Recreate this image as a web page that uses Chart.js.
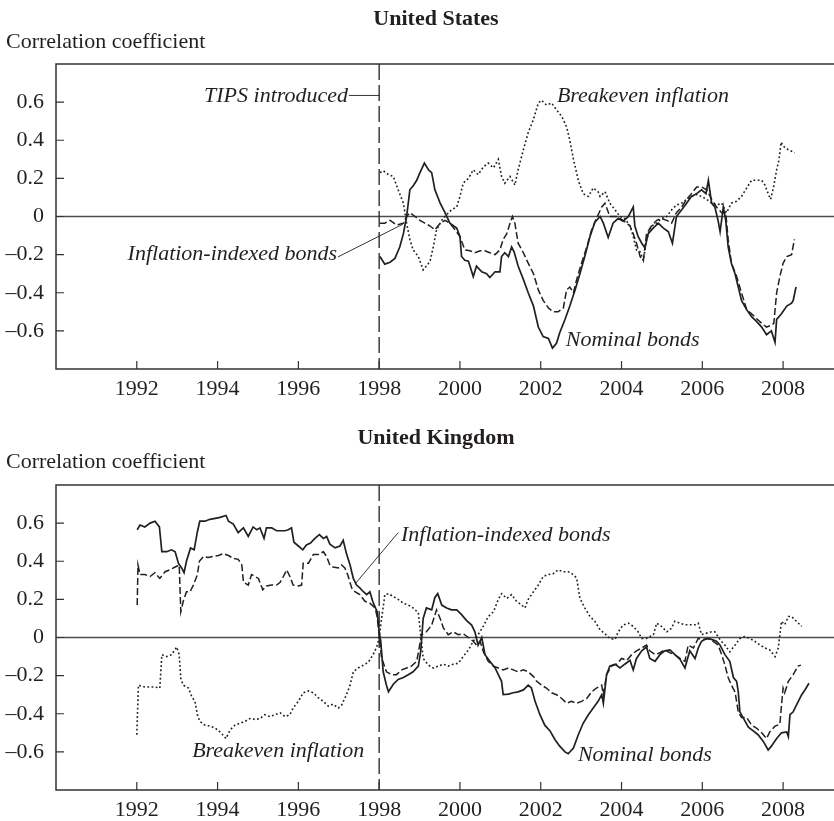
<!DOCTYPE html>
<html>
<head>
<meta charset="utf-8">
<script src="https://cdn.jsdelivr.net/npm/chart.js@4.4.1/dist/chart.umd.min.js"></script>
<style>
  html, body { margin: 0; padding: 0; background: #fff; overflow: hidden; }
  body { width: 834px; height: 821px; position: relative; font-family: 'Liberation Serif', 'Times New Roman', serif; color: #231f20; }
  .panel { position: absolute; left: 0; width: 834px; height: 400px; }
  .title { position: absolute; font-weight: bold; font-size: 22px; line-height: 22px; transform: translateX(-50%); white-space: nowrap; }
  .ylab { position: absolute; left: 6px; font-size: 22px; line-height: 22px; white-space: nowrap; }
</style>
</head>
<body>
<div class="panel" style="top:0"><canvas id="usChart" width="834" height="400"></canvas></div>
<div class="panel" style="top:421px"><canvas id="ukChart" width="834" height="400"></canvas></div>
<div class="title" style="left:436px;top:7px">United States</div>
<div class="ylab" style="top:30px">Correlation coefficient</div>
<div class="title" style="left:436px;top:426px">United Kingdom</div>
<div class="ylab" style="top:450px">Correlation coefficient</div>
<script>
const ink = '#231f20';
const serif = "'Liberation Serif', 'Times New Roman', serif";

const xTicks = [1992, 1994, 1996, 1998, 2000, 2002, 2004, 2006, 2008];
const yTicks = [-0.6, -0.4, -0.2, 0, 0.2, 0.4, 0.6];
const markerYear = 1998;

// United States
const usNomYears = [1998.02,1998.14,1998.27,1998.39,1998.51,1998.60,1998.68,1998.76,1998.84,1998.93,1999.01,1999.12,1999.22,1999.30,1999.38,1999.51,1999.63,1999.75,1999.92,2000.00,2000.04,2000.12,2000.21,2000.33,2000.41,2000.54,2000.66,2000.74,2000.87,2000.99,2001.03,2001.11,2001.20,2001.28,2001.34,2001.44,2001.57,2001.69,2001.82,2001.94,2002.06,2002.19,2002.29,2002.39,2002.47,2002.60,2002.72,2002.85,2002.97,2003.09,2003.22,2003.34,2003.47,2003.55,2003.67,2003.79,2003.92,2004.04,2004.17,2004.29,2004.33,2004.41,2004.50,2004.58,2004.66,2004.79,2004.91,2005.03,2005.16,2005.26,2005.36,2005.49,2005.61,2005.73,2005.86,2005.98,2006.09,2006.15,2006.23,2006.31,2006.39,2006.44,2006.52,2006.58,2006.64,2006.72,2006.81,2006.89,2006.97,2007.10,2007.22,2007.34,2007.47,2007.59,2007.71,2007.80,2007.84,2007.96,2008.09,2008.21,2008.25,2008.32];
const usNom = [-0.21,-0.25,-0.24,-0.22,-0.16,-0.09,0.00,0.14,0.16,0.19,0.23,0.28,0.245,0.23,0.14,0.07,0.02,-0.035,-0.06,-0.105,-0.21,-0.23,-0.235,-0.315,-0.26,-0.29,-0.30,-0.32,-0.29,-0.29,-0.21,-0.19,-0.21,-0.16,-0.185,-0.26,-0.33,-0.40,-0.47,-0.58,-0.63,-0.64,-0.69,-0.665,-0.61,-0.54,-0.47,-0.385,-0.30,-0.21,-0.105,-0.03,0.00,-0.035,-0.11,-0.035,-0.01,-0.025,0.00,0.05,-0.05,-0.105,-0.14,-0.165,-0.09,-0.06,-0.035,-0.06,-0.08,-0.14,0.00,0.035,0.07,0.105,0.12,0.14,0.12,0.19,0.07,0.05,-0.02,-0.08,0.05,-0.02,-0.16,-0.245,-0.30,-0.37,-0.44,-0.49,-0.525,-0.55,-0.58,-0.62,-0.60,-0.66,-0.54,-0.51,-0.47,-0.455,-0.44,-0.37];

const usIdxYears = [1998.02,1998.14,1998.27,1998.43,1998.60,1998.68,1998.76,1998.89,1999.01,1999.13,1999.26,1999.38,1999.51,1999.63,1999.75,1999.88,2000.00,2000.12,2000.25,2000.37,2000.50,2000.62,2000.74,2000.87,2000.99,2001.07,2001.16,2001.24,2001.30,2001.36,2001.44,2001.57,2001.69,2001.82,2001.94,2002.06,2002.19,2002.31,2002.43,2002.56,2002.64,2002.72,2002.81,2002.89,2003.01,2003.14,2003.26,2003.38,2003.51,2003.59,2003.71,2003.88,2004.04,2004.21,2004.29,2004.37,2004.46,2004.54,2004.62,2004.74,2004.87,2004.99,2005.12,2005.24,2005.36,2005.49,2005.61,2005.73,2005.86,2005.98,2006.11,2006.23,2006.35,2006.48,2006.58,2006.64,2006.72,2006.85,2006.97,2007.10,2007.22,2007.34,2007.47,2007.59,2007.71,2007.77,2007.84,2007.92,2008.00,2008.09,2008.21,2008.28];
const usIdx = [-0.035,-0.035,-0.02,-0.045,-0.035,0.00,0.02,0.00,-0.02,-0.035,-0.05,-0.07,-0.035,-0.02,-0.035,-0.07,-0.105,-0.175,-0.18,-0.19,-0.18,-0.18,-0.19,-0.20,-0.175,-0.12,-0.09,-0.035,0.00,-0.035,-0.14,-0.19,-0.245,-0.30,-0.385,-0.44,-0.48,-0.50,-0.50,-0.48,-0.385,-0.37,-0.40,-0.33,-0.245,-0.16,-0.07,-0.01,0.05,0.07,0.00,0.00,-0.02,-0.05,-0.09,-0.14,-0.21,-0.23,-0.09,-0.05,-0.02,-0.01,-0.02,-0.035,0.02,0.05,0.09,0.12,0.155,0.155,0.14,0.09,0.05,0.02,0.02,-0.12,-0.245,-0.315,-0.40,-0.49,-0.51,-0.535,-0.56,-0.58,-0.57,-0.56,-0.40,-0.315,-0.245,-0.21,-0.20,-0.12];

const usBeYears = [1998.02,1998.10,1998.23,1998.35,1998.47,1998.60,1998.68,1998.76,1998.84,1998.97,1999.09,1999.17,1999.26,1999.34,1999.42,1999.55,1999.67,1999.79,1999.92,2000.00,2000.08,2000.21,2000.33,2000.45,2000.58,2000.70,2000.83,2000.95,2001.03,2001.11,2001.24,2001.36,2001.44,2001.57,2001.69,2001.82,2001.94,2002.02,2002.14,2002.27,2002.39,2002.52,2002.64,2002.72,2002.81,2002.93,2003.05,2003.18,2003.30,2003.42,2003.47,2003.59,2003.71,2003.84,2003.96,2004.08,2004.21,2004.29,2004.37,2004.46,2004.54,2004.62,2004.74,2004.87,2004.99,2005.12,2005.24,2005.36,2005.49,2005.61,2005.73,2005.86,2005.98,2006.11,2006.23,2006.35,2006.48,2006.60,2006.72,2006.85,2006.97,2007.10,2007.22,2007.34,2007.47,2007.55,2007.63,2007.69,2007.76,2007.84,2007.90,2007.95,2008.00,2008.13,2008.29];
const usBe = [0.23,0.24,0.22,0.21,0.14,0.07,-0.035,-0.12,-0.175,-0.21,-0.28,-0.26,-0.235,-0.16,-0.07,-0.02,0.01,0.035,0.05,0.105,0.175,0.20,0.245,0.22,0.26,0.28,0.255,0.30,0.21,0.175,0.21,0.165,0.245,0.35,0.44,0.51,0.595,0.61,0.585,0.595,0.56,0.525,0.47,0.40,0.30,0.19,0.12,0.105,0.15,0.13,0.105,0.13,0.07,0.035,0.00,-0.01,-0.05,-0.105,-0.175,-0.185,-0.23,-0.12,-0.05,-0.035,-0.01,0.00,0.035,0.06,0.07,0.09,0.105,0.115,0.105,0.09,0.07,0.06,0.07,0.02,0.07,0.08,0.105,0.15,0.19,0.19,0.19,0.165,0.12,0.09,0.15,0.245,0.30,0.39,0.37,0.35,0.335];

// United Kingdom
const ukNomYears = [1992.01,1992.08,1992.20,1992.33,1992.45,1992.56,1992.62,1992.74,1992.86,1992.95,1993.03,1993.11,1993.17,1993.23,1993.33,1993.42,1993.50,1993.56,1993.69,1993.81,1993.94,1994.06,1994.21,1994.27,1994.39,1994.51,1994.64,1994.76,1994.88,1994.97,1995.05,1995.15,1995.21,1995.34,1995.46,1995.59,1995.67,1995.75,1995.83,1995.89,1996.00,1996.11,1996.20,1996.30,1996.41,1996.52,1996.62,1996.70,1996.78,1996.91,1997.03,1997.11,1997.19,1997.28,1997.36,1997.44,1997.52,1997.61,1997.69,1997.77,1997.84,1997.90,1997.95,1998.00,1998.04,1998.10,1998.18,1998.23,1998.35,1998.47,1998.60,1998.72,1998.84,1998.97,1999.03,1999.09,1999.17,1999.30,1999.38,1999.45,1999.55,1999.67,1999.79,1999.92,2000.04,2000.16,2000.29,2000.37,2000.45,2000.54,2000.62,2000.74,2000.87,2000.95,2001.03,2001.07,2001.20,2001.32,2001.44,2001.57,2001.69,2001.77,2001.86,2001.98,2002.10,2002.23,2002.35,2002.47,2002.60,2002.68,2002.81,2002.93,2003.05,2003.18,2003.30,2003.42,2003.51,2003.55,2003.63,2003.71,2003.84,2003.96,2004.08,2004.21,2004.29,2004.37,2004.50,2004.62,2004.70,2004.83,2004.95,2005.07,2005.20,2005.32,2005.45,2005.57,2005.69,2005.82,2005.90,2005.98,2006.11,2006.23,2006.35,2006.44,2006.56,2006.68,2006.77,2006.85,2006.89,2006.93,2007.01,2007.14,2007.26,2007.38,2007.51,2007.63,2007.71,2007.84,2007.96,2008.09,2008.13,2008.17,2008.25,2008.33,2008.46,2008.54,2008.64];
const ukNom = [0.565,0.59,0.58,0.60,0.61,0.58,0.45,0.45,0.46,0.45,0.39,0.365,0.34,0.40,0.47,0.46,0.555,0.61,0.61,0.62,0.625,0.63,0.64,0.61,0.595,0.55,0.575,0.53,0.58,0.565,0.575,0.52,0.575,0.575,0.56,0.56,0.56,0.565,0.575,0.50,0.48,0.46,0.485,0.495,0.52,0.54,0.52,0.53,0.49,0.47,0.48,0.51,0.44,0.38,0.31,0.275,0.26,0.24,0.225,0.24,0.19,0.16,0.135,0.03,-0.02,-0.18,-0.25,-0.285,-0.245,-0.22,-0.21,-0.195,-0.18,-0.15,-0.07,0.10,0.155,0.145,0.21,0.23,0.17,0.155,0.145,0.145,0.12,0.09,0.065,0.03,-0.04,0.00,-0.09,-0.125,-0.16,-0.195,-0.23,-0.30,-0.297,-0.29,-0.285,-0.275,-0.25,-0.265,-0.335,-0.405,-0.46,-0.49,-0.535,-0.57,-0.60,-0.61,-0.58,-0.51,-0.45,-0.405,-0.37,-0.335,-0.30,-0.345,-0.195,-0.15,-0.14,-0.16,-0.14,-0.12,-0.17,-0.11,-0.07,-0.05,-0.11,-0.125,-0.09,-0.07,-0.065,-0.09,-0.115,-0.16,-0.07,-0.11,-0.055,-0.02,-0.005,-0.01,-0.02,-0.04,-0.09,-0.125,-0.21,-0.23,-0.285,-0.39,-0.42,-0.47,-0.49,-0.51,-0.545,-0.59,-0.57,-0.53,-0.50,-0.495,-0.52,-0.405,-0.39,-0.355,-0.30,-0.275,-0.24];

const ukIdxYears = [1992.01,1992.03,1992.08,1992.20,1992.33,1992.45,1992.57,1992.70,1992.82,1992.95,1993.05,1993.09,1993.15,1993.23,1993.32,1993.40,1993.50,1993.55,1993.65,1993.77,1993.89,1994.02,1994.14,1994.27,1994.39,1994.51,1994.60,1994.64,1994.76,1994.84,1994.93,1995.01,1995.12,1995.21,1995.34,1995.46,1995.55,1995.63,1995.71,1995.79,1995.87,1996.00,1996.08,1996.12,1996.25,1996.37,1996.49,1996.62,1996.70,1996.78,1996.86,1996.99,1997.07,1997.15,1997.22,1997.32,1997.40,1997.52,1997.65,1997.77,1997.90,1997.95,1998.00,1998.06,1998.09,1998.18,1998.31,1998.43,1998.56,1998.68,1998.80,1998.93,1999.05,1999.17,1999.30,1999.42,1999.51,1999.59,1999.71,1999.83,1999.96,2000.08,2000.21,2000.33,2000.41,2000.50,2000.58,2000.70,2000.83,2000.95,2001.07,2001.20,2001.32,2001.44,2001.57,2001.69,2001.82,2001.90,2002.02,2002.14,2002.27,2002.39,2002.52,2002.64,2002.76,2002.89,2003.01,2003.14,2003.26,2003.38,2003.51,2003.55,2003.63,2003.75,2003.88,2004.00,2004.13,2004.25,2004.37,2004.50,2004.62,2004.70,2004.83,2004.95,2005.07,2005.20,2005.32,2005.45,2005.57,2005.65,2005.78,2005.90,2006.02,2006.15,2006.27,2006.39,2006.48,2006.56,2006.64,2006.72,2006.81,2006.89,2006.97,2007.10,2007.22,2007.34,2007.47,2007.59,2007.67,2007.80,2007.92,2007.96,2008.00,2008.04,2008.13,2008.25,2008.37,2008.44];
const ukIdx = [0.17,0.38,0.33,0.33,0.32,0.34,0.31,0.345,0.355,0.37,0.38,0.135,0.19,0.24,0.24,0.275,0.33,0.40,0.425,0.42,0.425,0.43,0.44,0.43,0.415,0.41,0.38,0.29,0.275,0.33,0.32,0.31,0.25,0.27,0.275,0.275,0.29,0.32,0.355,0.32,0.275,0.27,0.275,0.39,0.39,0.435,0.435,0.45,0.425,0.38,0.37,0.365,0.38,0.365,0.33,0.26,0.24,0.225,0.19,0.18,0.155,0.11,0.015,-0.11,-0.125,-0.18,-0.195,-0.195,-0.17,-0.16,-0.15,-0.125,0.015,0.03,0.065,0.145,0.10,0.05,0.015,0.03,0.015,0.02,0.00,-0.02,-0.04,-0.02,-0.075,-0.125,-0.15,-0.16,-0.17,-0.16,-0.17,-0.18,-0.17,-0.18,-0.205,-0.23,-0.25,-0.265,-0.29,-0.30,-0.32,-0.345,-0.335,-0.345,-0.335,-0.32,-0.285,-0.265,-0.25,-0.30,-0.195,-0.15,-0.14,-0.11,-0.12,-0.09,-0.07,-0.055,-0.04,-0.07,-0.09,-0.08,-0.065,-0.08,-0.09,-0.11,-0.125,-0.04,-0.055,-0.005,-0.01,-0.005,-0.02,-0.04,-0.09,-0.145,-0.21,-0.25,-0.285,-0.39,-0.42,-0.42,-0.46,-0.475,-0.50,-0.53,-0.495,-0.465,-0.455,-0.355,-0.265,-0.29,-0.23,-0.195,-0.15,-0.145];

const ukBeYears = [1992.00,1992.04,1992.20,1992.33,1992.45,1992.57,1992.62,1992.74,1992.86,1992.99,1993.05,1993.09,1993.15,1993.28,1993.36,1993.44,1993.50,1993.56,1993.69,1993.81,1993.94,1994.06,1994.21,1994.31,1994.43,1994.55,1994.68,1994.80,1994.93,1995.05,1995.17,1995.30,1995.42,1995.55,1995.67,1995.79,1995.87,1996.00,1996.12,1996.25,1996.37,1996.49,1996.62,1996.74,1996.86,1996.99,1997.07,1997.19,1997.28,1997.36,1997.48,1997.61,1997.73,1997.85,1997.94,1998.00,1998.06,1998.12,1998.14,1998.23,1998.35,1998.47,1998.60,1998.72,1998.84,1998.97,1999.01,1999.09,1999.22,1999.34,1999.46,1999.59,1999.71,1999.83,1999.96,2000.08,2000.21,2000.33,2000.45,2000.58,2000.70,2000.83,2000.95,2001.03,2001.16,2001.28,2001.40,2001.53,2001.61,2001.69,2001.82,2001.94,2002.06,2002.19,2002.31,2002.43,2002.56,2002.68,2002.81,2002.89,2002.97,2003.09,2003.22,2003.34,2003.47,2003.59,2003.71,2003.84,2003.92,2004.04,2004.17,2004.29,2004.41,2004.50,2004.62,2004.79,2004.87,2004.99,2005.12,2005.24,2005.32,2005.45,2005.57,2005.69,2005.82,2005.90,2005.98,2006.11,2006.23,2006.31,2006.44,2006.56,2006.68,2006.81,2006.93,2007.05,2007.18,2007.30,2007.43,2007.55,2007.67,2007.80,2007.88,2007.92,2007.96,2008.04,2008.13,2008.21,2008.33,2008.46];
const ukBe = [-0.51,-0.25,-0.26,-0.26,-0.26,-0.265,-0.09,-0.10,-0.09,-0.05,-0.09,-0.215,-0.25,-0.265,-0.31,-0.335,-0.405,-0.44,-0.46,-0.465,-0.475,-0.495,-0.53,-0.485,-0.46,-0.45,-0.44,-0.425,-0.43,-0.425,-0.405,-0.415,-0.405,-0.395,-0.415,-0.405,-0.37,-0.335,-0.29,-0.28,-0.29,-0.315,-0.335,-0.36,-0.35,-0.37,-0.355,-0.30,-0.25,-0.18,-0.16,-0.145,-0.13,-0.09,-0.05,0.00,0.10,0.19,0.225,0.23,0.215,0.20,0.18,0.17,0.155,0.13,0.05,-0.11,-0.145,-0.16,-0.15,-0.14,-0.15,-0.14,-0.135,-0.10,-0.065,-0.02,0.015,0.06,0.11,0.135,0.20,0.23,0.205,0.225,0.19,0.17,0.155,0.20,0.24,0.275,0.32,0.33,0.335,0.355,0.345,0.345,0.33,0.31,0.205,0.155,0.11,0.085,0.04,0.02,-0.005,-0.01,0.03,0.065,0.075,0.058,0.03,-0.005,-0.005,0.015,0.075,0.058,0.03,0.049,0.085,0.075,0.067,0.067,0.067,0.075,0.015,0.023,0.03,0.03,-0.012,-0.04,-0.075,-0.04,-0.005,0.005,-0.005,-0.02,-0.04,-0.055,-0.065,-0.10,-0.055,0.015,0.085,0.067,0.11,0.11,0.085,0.058];

const usNotes = [
  { text: 'TIPS introduced', x: 1997.23, y: 0.63, align: 'right', line: [[1997.25, 0.635], [1998, 0.635]] },
  { text: 'Breakeven inflation', x: 2002.40, y: 0.63, align: 'left' },
  { text: 'Inflation-indexed bonds', x: 1996.96, y: -0.20, align: 'right', line: [[1996.98, -0.212], [1998.59, -0.04]] },
  { text: 'Nominal bonds', x: 2002.62, y: -0.647, align: 'left' }
];
const ukNotes = [
  { text: 'Inflation-indexed bonds', x: 1998.54, y: 0.534, align: 'left', line: [[1998.47, 0.55], [1997.40, 0.28]] },
  { text: 'Breakeven inflation', x: 1993.37, y: -0.595, align: 'left' },
  { text: 'Nominal bonds', x: 2002.92, y: -0.62, align: 'left' }
];

function fmtCorr(v) {
  if (Math.abs(v) < 1e-9) return '0';
  return (v < 0 ? '\u2013' : '') + Math.abs(v).toFixed(1);
}

function framePlugin(notes) {
  return {
    id: 'frame',
    beforeDatasetsDraw(chart) {
      const { ctx, chartArea: a, scales: { x, y } } = chart;
      ctx.save();
      // zero line
      const y0 = y.getPixelForValue(0);
      ctx.strokeStyle = '#4d4d4d';
      ctx.lineWidth = 1.5;
      ctx.beginPath();
      ctx.moveTo(a.left, y0);
      ctx.lineTo(a.right, y0);
      ctx.stroke();
      // 1998 marker
      const xm = x.getPixelForValue(markerYear);
      ctx.strokeStyle = ink;
      ctx.lineWidth = 1.3;
      ctx.setLineDash([16, 5]);
      ctx.beginPath();
      ctx.moveTo(xm, a.top);
      ctx.lineTo(xm, a.bottom);
      ctx.stroke();
      ctx.restore();
    },
    afterDraw(chart) {
      const { ctx, chartArea: a, scales: { x, y } } = chart;
      ctx.save();
      ctx.strokeStyle = '#333';
      ctx.lineWidth = 1.5;
      ctx.beginPath();
      ctx.moveTo(a.right, a.top);
      ctx.lineTo(a.left, a.top);
      ctx.lineTo(a.left, a.bottom);
      ctx.lineTo(a.right, a.bottom);
      ctx.stroke();

      // inward tick marks
      ctx.lineWidth = 1.2;
      ctx.beginPath();
      xTicks.forEach(v => {
        const px = x.getPixelForValue(v);
        ctx.moveTo(px, a.bottom);
        ctx.lineTo(px, a.bottom - 8);
      });
      yTicks.forEach(v => {
        const py = y.getPixelForValue(v);
        ctx.moveTo(a.left, py);
        ctx.lineTo(a.left + 8, py);
      });
      ctx.stroke();

      // labels
      ctx.fillStyle = ink;
      ctx.strokeStyle = ink;
      ctx.font = 'italic 22px ' + serif;
      ctx.textBaseline = 'middle';
      notes.forEach(n => {
        ctx.textAlign = n.align;
        ctx.fillText(n.text, x.getPixelForValue(n.x), y.getPixelForValue(n.y));
        if (n.line) {
          ctx.lineWidth = 0.9;
          ctx.beginPath();
          ctx.moveTo(x.getPixelForValue(n.line[0][0]), y.getPixelForValue(n.line[0][1]));
          ctx.lineTo(x.getPixelForValue(n.line[1][0]), y.getPixelForValue(n.line[1][1]));
          ctx.stroke();
        }
      });
      ctx.restore();
    }
  };
}

function toPoints(years, values) {
  return years.map((yr, i) => ({ x: yr, y: values[i] }));
}

function buildChart(id, series, notes) {
  return new Chart(document.getElementById(id), {
    type: 'line',
    data: {
      datasets: series.map(s => ({
        label: s.label,
        data: toPoints(s.years, s.values),
        borderColor: ink,
        borderWidth: s.width,
        borderDash: s.dash,
        pointRadius: 0,
        tension: 0,
        fill: false
      }))
    },
    options: {
      responsive: false,
      animation: false,
      events: [],
      layout: { padding: { top: 64, left: 0, right: 0, bottom: 0 } },
      plugins: { legend: { display: false }, tooltip: { enabled: false } },
      scales: {
        x: {
          type: 'linear',
          min: 1990,
          max: 2009.26,
          grid: { display: false, drawTicks: false },
          border: { display: false },
          afterBuildTicks: s => { s.ticks = xTicks.map(v => ({ value: v })); },
          afterFit: s => { s.height = 31; },
          ticks: {
            color: ink,
            font: { family: serif, size: 22 },
            padding: 7,
            maxRotation: 0,
            autoSkip: false,
            callback: v => String(v)
          }
        },
        y: {
          min: -0.8,
          max: 0.8,
          grid: { display: false, drawTicks: false },
          border: { display: false },
          afterBuildTicks: s => { s.ticks = yTicks.map(v => ({ value: v })); },
          afterFit: s => { s.width = 56; },
          ticks: {
            color: ink,
            font: { family: serif, size: 22 },
            padding: 12,
            autoSkip: false,
            callback: v => fmtCorr(v)
          }
        }
      }
    },
    plugins: [framePlugin(notes)]
  });
}

buildChart('usChart', [
  { label: 'Nominal bonds', years: usNomYears, values: usNom, width: 1.7, dash: [] },
  { label: 'Inflation-indexed bonds', years: usIdxYears, values: usIdx, width: 1.5, dash: [7, 3] },
  { label: 'Breakeven inflation', years: usBeYears, values: usBe, width: 1.6, dash: [1.8, 2.4] }
], usNotes);

buildChart('ukChart', [
  { label: 'Nominal bonds', years: ukNomYears, values: ukNom, width: 1.7, dash: [] },
  { label: 'Inflation-indexed bonds', years: ukIdxYears, values: ukIdx, width: 1.5, dash: [7, 3] },
  { label: 'Breakeven inflation', years: ukBeYears, values: ukBe, width: 1.6, dash: [1.8, 2.4] }
], ukNotes);
</script>
</body>
</html>
